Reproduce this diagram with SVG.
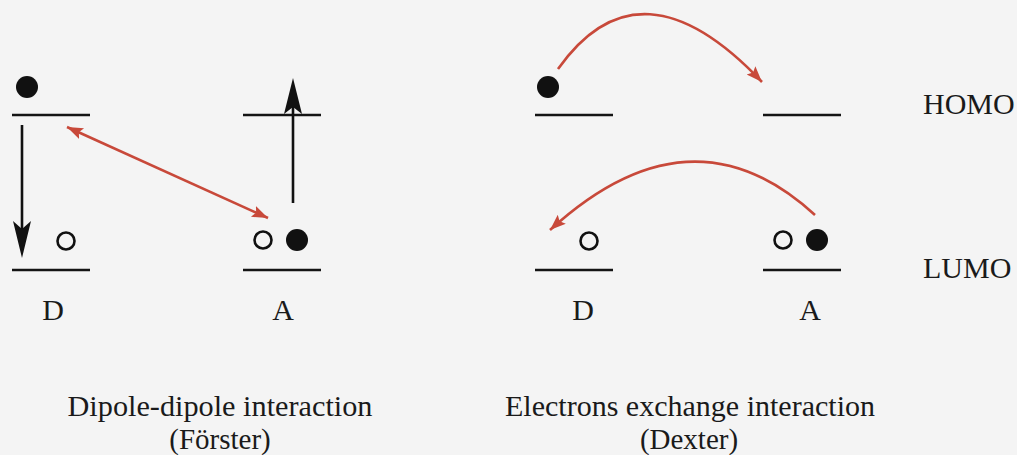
<svg xmlns="http://www.w3.org/2000/svg" width="1017" height="455" viewBox="0 0 1017 455">
<style>
.lvl{stroke:#141414;stroke-width:2.6;fill:none}
.full{fill:#111}
.hole{fill:none;stroke:#111;stroke-width:2.6}
.blk{stroke:#111;stroke-width:2.6;fill:none}
.red{stroke:#c8493a;stroke-width:2.6;fill:none}
text{font-family:"Liberation Serif","Times New Roman",serif;fill:#1a1a1a;font-size:30px}
.c{text-anchor:middle}
.cap{font-size:29px}
</style>
<defs>
<marker id="rh" markerUnits="userSpaceOnUse" markerWidth="20" markerHeight="16" refX="16" refY="7" orient="auto-start-reverse">
<path d="M0,1 L16,7 L0,13 L3,7 Z" fill="#c8493a"/>
</marker>
</defs>
<rect width="1017" height="455" fill="#f4f4f4"/>
<g id="forster-donor">
<line class="lvl" x1="12" y1="115" x2="90" y2="115"/>
<line class="lvl" x1="12" y1="270" x2="90" y2="270"/>
<circle class="full" cx="27" cy="87" r="11"/>
<circle class="hole" cx="66" cy="241" r="8.5"/>
<line class="blk" x1="22" y1="125" x2="22" y2="240"/>
<path d="M22,258 L13,221 L22,229 L31,221 Z" fill="#111"/>
<text class="c" x="53" y="320">D</text>
</g>
<g id="forster-acceptor">
<line class="lvl" x1="243" y1="115" x2="321" y2="115"/>
<line class="lvl" x1="243" y1="270" x2="321" y2="270"/>
<circle class="hole" cx="263" cy="240" r="8.5"/>
<circle class="full" cx="297" cy="240" r="11"/>
<line class="blk" x1="293" y1="203" x2="293" y2="95"/>
<path d="M293,78 L284,114 L293,107 L302,114 Z" fill="#111"/>
<text class="c" x="283" y="320">A</text>
</g>
<g id="dexter-donor">
<line class="lvl" x1="535" y1="115" x2="613" y2="115"/>
<line class="lvl" x1="535" y1="270" x2="613" y2="270"/>
<circle class="full" cx="548" cy="87" r="11"/>
<circle class="hole" cx="589" cy="241" r="8.5"/>
<text class="c" x="583" y="320">D</text>
</g>
<g id="dexter-acceptor">
<line class="lvl" x1="763" y1="115" x2="841" y2="115"/>
<line class="lvl" x1="763" y1="270" x2="841" y2="270"/>
<circle class="hole" cx="783" cy="240" r="8.5"/>
<circle class="full" cx="817" cy="240" r="11"/>
<text class="c" x="810" y="320">A</text>
</g>
<g id="labels">
<text x="923" y="114">HOMO</text>
<text x="923" y="278">LUMO</text>
<text class="c cap" x="220" y="416" textLength="305" lengthAdjust="spacingAndGlyphs">Dipole-dipole interaction</text>
<text class="c cap" x="220" y="449">(Förster)</text>
<text class="c cap" x="690" y="416" textLength="370" lengthAdjust="spacingAndGlyphs">Electrons exchange interaction</text>
<text class="c cap" x="689" y="449">(Dexter)</text>
</g>
<g id="connectors">
<line class="red" x1="67" y1="127" x2="268" y2="218" marker-start="url(#rh)" marker-end="url(#rh)"/>
<path class="red" d="M558,69 Q640,-47 762,82" marker-end="url(#rh)"/>
<path class="red" d="M815,215 Q691,101 550,230" marker-end="url(#rh)"/>
</g>
</svg>
